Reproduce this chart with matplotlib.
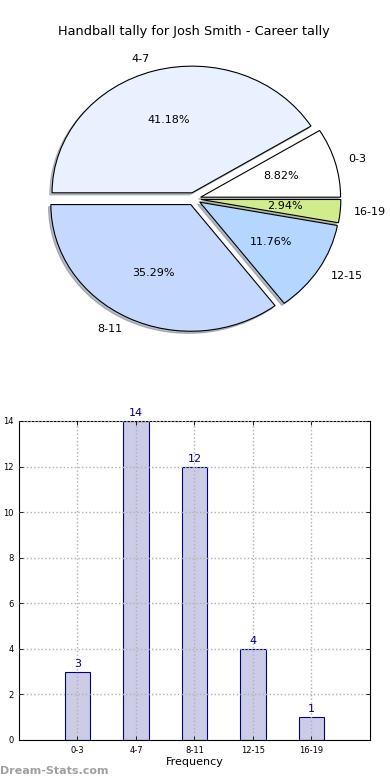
import matplotlib
matplotlib.use("Agg")
import matplotlib.pyplot as plt

title = "Handball tally for Josh Smith - Career tally"
categories = ["0-3", "4-7", "8-11", "12-15", "16-19"]
counts = [3, 14, 12, 4, 1]
pie_colors = ["#ffffff", "#eaf1fe", "#c5d9ff", "#b4d6ff", "#d0ec8c"]
yticks = [0, 2, 4, 6, 8, 10, 12, 14]
xlabel = "Frequency"
ylabel = "Goal Intervals"
watermark = "Dream-Stats.com"

plt.rcParams['font.family'] = ['DejaVu Sans']
fig = plt.figure(figsize=(3.9, 7.8), dpi=100)

# Pie
axp = fig.add_axes([0.0487, 0.542, 0.897, 0.406])
wedges, texts, autotexts = axp.pie(
    counts, labels=categories, colors=pie_colors, autopct='%.2f%%',
    explode=[0.05] * len(counts),
    shadow={'ox': -0.012, 'oy': -0.012, 'shade': 0.45},
    startangle=0,
    wedgeprops=dict(edgecolor='black', linewidth=0.8),
    textprops=dict(fontsize=8))
axp.set_aspect('auto')
axp.set_xlim(-1.25, 1.25)
axp.set_ylim(-1.25, 1.25)
axp.set_title(title, fontsize=9.3, pad=4)

# Bars
axb = fig.add_axes([0.0487, 0.0513, 0.9, 0.409])
x = list(range(len(categories)))
axb.bar(x, counts, width=0.44, color="#ccccE6", edgecolor="navy", linewidth=0.8, zorder=2)
for xi, c in zip(x, counts):
    axb.text(xi, c + 0.12, str(c), ha='center', va='bottom', color='navy', fontsize=8)
axb.set_xlim(-1, 5)
axb.set_ylim(0, 14)
axb.set_xticks(x)
axb.set_xticklabels(categories, fontsize=6)
axb.set_yticks(yticks)
axb.set_yticklabels([str(v) for v in yticks], fontsize=6)
axb.grid(True, linestyle=':', color='#b0b0b0', linewidth=1, zorder=0)
axb.set_axisbelow(False)
axb.tick_params(direction='in', top=True, right=True, length=3, width=0.6, pad=4)
axb.set_xlabel(xlabel, fontsize=8, labelpad=2)
axb.set_ylabel(ylabel, fontsize=7, labelpad=2)
axb.yaxis.set_label_coords(-0.047, 0.5)

fig.text(0.0, 0.005, watermark, fontsize=8, color='#a0a0a0', fontweight='bold', ha='left', va='bottom')

fig.savefig("out.png", dpi=100)
